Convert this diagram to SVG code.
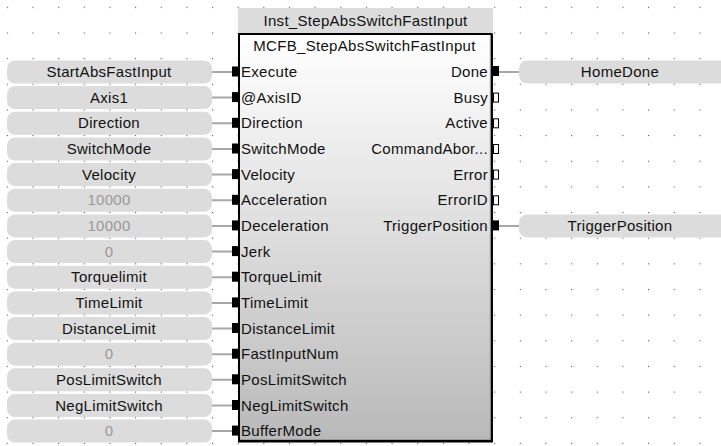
<svg xmlns="http://www.w3.org/2000/svg" width="721" height="446" viewBox="0 0 721 446">
<defs>
<pattern id="grid" patternUnits="userSpaceOnUse" x="6.8" y="6.8" width="25.65" height="25.65">
<rect x="0" y="0" width="1.1" height="1.1" fill="#555"/>
</pattern>
<linearGradient id="body" x1="0" y1="0" x2="0" y2="1">
<stop offset="0" stop-color="#ffffff"/>
<stop offset="0.15" stop-color="#f6f6f6"/>
<stop offset="1" stop-color="#b9b9b9"/>
</linearGradient>
<style>
text{font-family:"Liberation Sans",Arial,sans-serif;font-size:15px;fill:#111;letter-spacing:0.3px;}
.var{fill:#dcdcdc;}
.c{text-anchor:middle;}
.r{text-anchor:end;}
.k{fill:#999;}
.wire{stroke:#a8a8a8;stroke-width:2;fill:none;}
.pin{fill:#000;}
.hpin{fill:#fff;stroke:#000;stroke-width:1;}
</style>
</defs>
<rect width="721" height="446" fill="#fff"/>
<rect width="721" height="446" fill="url(#grid)"/>

<g id="connectors">
<path class="wire" d="M212 72H232M212 97.6H232M212 123.3H232M212 149H232M212 174.6H232M212 200.3H232M212 225.9H232M212 251.6H232M212 277.2H232M212 302.9H232M212 328.5H232M212 354.2H232M212 379.8H232M212 405.5H232M212 431.1H232"/>
<path class="wire" d="M499 72H519M499 225.9H519"/>
</g>

<g id="block">
<rect x="238" y="8" width="255" height="25" fill="#dcdcdc"/>
<text class="c" x="365.5" y="26">Inst_StepAbsSwitchFastInput</text>
<rect x="239" y="34" width="252.5" height="406.5" fill="url(#body)" stroke="#000" stroke-width="2"/>
<path d="M490.3 35V439.5H240" fill="none" stroke="#999" stroke-width="1"/>
<path d="M492.2 34V441.8H238" fill="none" stroke="#000" stroke-width="1.5"/>
<text class="c" x="364.5" y="51">MCFB_StepAbsSwitchFastInput</text>
<g id="inputs">
<text x="241" y="77">Execute</text>
<text x="241" y="102.6">@AxisID</text>
<text x="241" y="128.3">Direction</text>
<text x="241" y="154">SwitchMode</text>
<text x="241" y="179.6">Velocity</text>
<text x="241" y="205.3">Acceleration</text>
<text x="241" y="230.9">Deceleration</text>
<text x="241" y="256.6">Jerk</text>
<text x="241" y="282.2">TorqueLimit</text>
<text x="241" y="307.9">TimeLimit</text>
<text x="241" y="333.5">DistanceLimit</text>
<text x="241" y="359.2">FastInputNum</text>
<text x="241" y="384.8">PosLimitSwitch</text>
<text x="241" y="410.5">NegLimitSwitch</text>
<text x="241" y="436.1">BufferMode</text>
</g>
<g id="outputs">
<text class="r" x="488" y="77">Done</text>
<text class="r" x="488" y="102.6">Busy</text>
<text class="r" x="488" y="128.3">Active</text>
<text class="r" x="488" y="154">CommandAbor...</text>
<text class="r" x="488" y="179.6">Error</text>
<text class="r" x="488" y="205.3">ErrorID</text>
<text class="r" x="488" y="230.9">TriggerPosition</text>
</g>
<g id="pins">
<rect class="pin" x="232" y="66.5" width="6" height="10"/>
<rect class="pin" x="232" y="92.1" width="6" height="10"/>
<rect class="pin" x="232" y="117.8" width="6" height="10"/>
<rect class="pin" x="232" y="143.5" width="6" height="10"/>
<rect class="pin" x="232" y="169.1" width="6" height="10"/>
<rect class="pin" x="232" y="194.8" width="6" height="10"/>
<rect class="pin" x="232" y="220.4" width="6" height="10"/>
<rect class="pin" x="232" y="246.1" width="6" height="10"/>
<rect class="pin" x="232" y="271.7" width="6" height="10"/>
<rect class="pin" x="232" y="297.4" width="6" height="10"/>
<rect class="pin" x="232" y="323" width="6" height="10"/>
<rect class="pin" x="232" y="348.7" width="6" height="10"/>
<rect class="pin" x="232" y="374.3" width="6" height="10"/>
<rect class="pin" x="232" y="400" width="6" height="10"/>
<rect class="pin" x="232" y="425.6" width="6" height="10"/>
<rect class="pin" x="492.5" y="66" width="6.5" height="10"/>
<rect class="hpin" x="493.5" y="93.1" width="5" height="9"/>
<rect class="hpin" x="493.5" y="118.8" width="5" height="9"/>
<rect class="hpin" x="493.5" y="144.5" width="5" height="9"/>
<rect class="hpin" x="493.5" y="170.1" width="5" height="9"/>
<rect class="hpin" x="493.5" y="195.8" width="5" height="9"/>
<rect class="pin" x="492.5" y="220.4" width="6.5" height="10"/>
</g>
</g>

<g id="in-vars">
<g id="v-execute"><rect class="var" x="7" y="60.5" width="205" height="23" rx="8"/><text class="c" x="109" y="77">StartAbsFastInput</text></g>
<g id="v-axis"><rect class="var" x="7" y="86.1" width="205" height="23" rx="8"/><text class="c" x="109" y="102.6">Axis1</text></g>
<g id="v-direction"><rect class="var" x="7" y="111.8" width="205" height="23" rx="8"/><text class="c" x="109" y="128.3">Direction</text></g>
<g id="v-switchmode"><rect class="var" x="7" y="137.5" width="205" height="23" rx="8"/><text class="c" x="109" y="154">SwitchMode</text></g>
<g id="v-velocity"><rect class="var" x="7" y="163.1" width="205" height="23" rx="8"/><text class="c" x="109" y="179.6">Velocity</text></g>
<g id="v-acc"><rect class="var" x="7" y="188.8" width="205" height="23" rx="8"/><text class="c k" x="109" y="205.3">10000</text></g>
<g id="v-dec"><rect class="var" x="7" y="214.4" width="205" height="23" rx="8"/><text class="c k" x="109" y="230.9">10000</text></g>
<g id="v-jerk"><rect class="var" x="7" y="240.1" width="205" height="23" rx="8"/><text class="c k" x="109" y="256.6">0</text></g>
<g id="v-torque"><rect class="var" x="7" y="265.7" width="205" height="23" rx="8"/><text class="c" x="109" y="282.2">Torquelimit</text></g>
<g id="v-time"><rect class="var" x="7" y="291.4" width="205" height="23" rx="8"/><text class="c" x="109" y="307.9">TimeLimit</text></g>
<g id="v-distance"><rect class="var" x="7" y="317" width="205" height="23" rx="8"/><text class="c" x="109" y="333.5">DistanceLimit</text></g>
<g id="v-fastinput"><rect class="var" x="7" y="342.7" width="205" height="23" rx="8"/><text class="c k" x="109" y="359.2">0</text></g>
<g id="v-poslimit"><rect class="var" x="7" y="368.3" width="205" height="23" rx="8"/><text class="c" x="109" y="384.8">PosLimitSwitch</text></g>
<g id="v-neglimit"><rect class="var" x="7" y="394" width="205" height="23" rx="8"/><text class="c" x="109" y="410.5">NegLimitSwitch</text></g>
<g id="v-buffer"><rect class="var" x="7" y="419.6" width="205" height="23" rx="8"/><text class="c k" x="109" y="436.1">0</text></g>
</g>

<g id="out-vars">
<g id="v-homedone"><rect class="var" x="519" y="60.5" width="212" height="23" rx="8"/><text class="c" x="620" y="77">HomeDone</text></g>
<g id="v-trigger"><rect class="var" x="519" y="214.4" width="212" height="23" rx="8"/><text class="c" x="620" y="230.9">TriggerPosition</text></g>
</g>
</svg>
